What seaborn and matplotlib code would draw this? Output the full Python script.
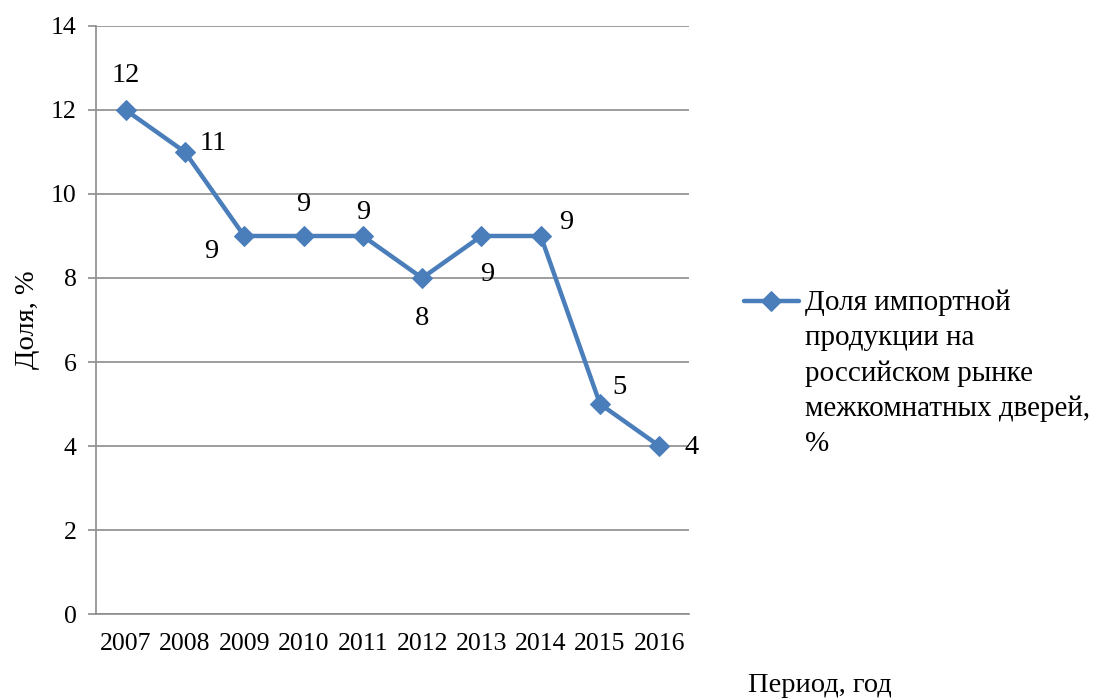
import matplotlib
matplotlib.use("Agg")
import matplotlib.pyplot as plt
import seaborn as sns
import pandas as pd

years = ["2007", "2008", "2009", "2010", "2011", "2012", "2013", "2014", "2015", "2016"]
share = [12, 11, 9, 9, 9, 8, 9, 9, 5, 4]
yticks = [0, 2, 4, 6, 8, 10, 12, 14]
series_name = "Доля импортной\nпродукции на\nроссийском рынке\nмежкомнатных дверей,\n%"

# label offsets (points) for the value annotations
label_offsets = [(0, 25), (20, 6), (-24, -11), (0, 23), (0, 17), (0, -29), (4, -28), (18, 10), (14, 12), (23, -1)]

sns.set_theme(style="white")
plt.rcParams["font.family"] = ["Liberation Serif", "DejaVu Serif"]
for key in ["text.color", "axes.labelcolor", "xtick.labelcolor", "ytick.labelcolor"]:
    plt.rcParams[key] = "black"

color = "#4a7ebb"
fs_tick = 18.5
fs = 20.5

fig = plt.figure(figsize=(10.98, 6.98), dpi=100)
ax = fig.add_axes([0.0874, 0.1203, 0.5401, 0.8425])

df = pd.DataFrame({"year": years, "share": share})
sns.lineplot(data=df, x="year", y="share", ax=ax, color=color, linewidth=3.2,
             marker="D", markersize=10, markeredgecolor=color, label=series_name)

for i, (v, off) in enumerate(zip(share, label_offsets)):
    ax.annotate(str(v), (i, v), xytext=off, textcoords="offset points",
                ha="center", va="center", fontsize=fs, color="black")

ax.set_xlim(-0.5, len(years) - 0.5)
ax.set_ylim(0, 14)
ax.set_yticks(yticks)
ax.yaxis.grid(True, color="#8c8c8c", linewidth=1.2)
ax.xaxis.grid(False)
for s in ["top", "right"]:
    ax.spines[s].set_visible(False)
for s in ["left", "bottom"]:
    ax.spines[s].set_color("#8c8c8c")
    ax.spines[s].set_linewidth(1.2)

ax.tick_params(axis="y", length=6, width=1.2, color="#8c8c8c", labelcolor="black",
               pad=8, labelsize=fs_tick, direction="out", left=True)
ax.tick_params(axis="x", length=0, pad=14, labelsize=fs_tick, labelcolor="black")

ax.set_xlabel("")
ax.set_ylabel("Доля, %", fontsize=fs, labelpad=8, color="black")
fig.text(0.747, 0.018, "Период, год", fontsize=fs, ha="center", va="center", color="black")

leg = ax.legend(loc="upper left", bbox_to_anchor=(1.092, 0.552), frameon=False,
                fontsize=21, handlelength=1.9, handleheight=1.0, handletextpad=0.2,
                borderaxespad=0, borderpad=0)
for t in leg.get_texts():
    t.set_linespacing(1.45)
    t.set_color("black")
# keep the legend line level with the first line of its multi-line label
for column in leg._legend_handle_box.get_children():
    for row in column.get_children():
        row.align = "top"

fig.savefig("out.png", dpi=100)
